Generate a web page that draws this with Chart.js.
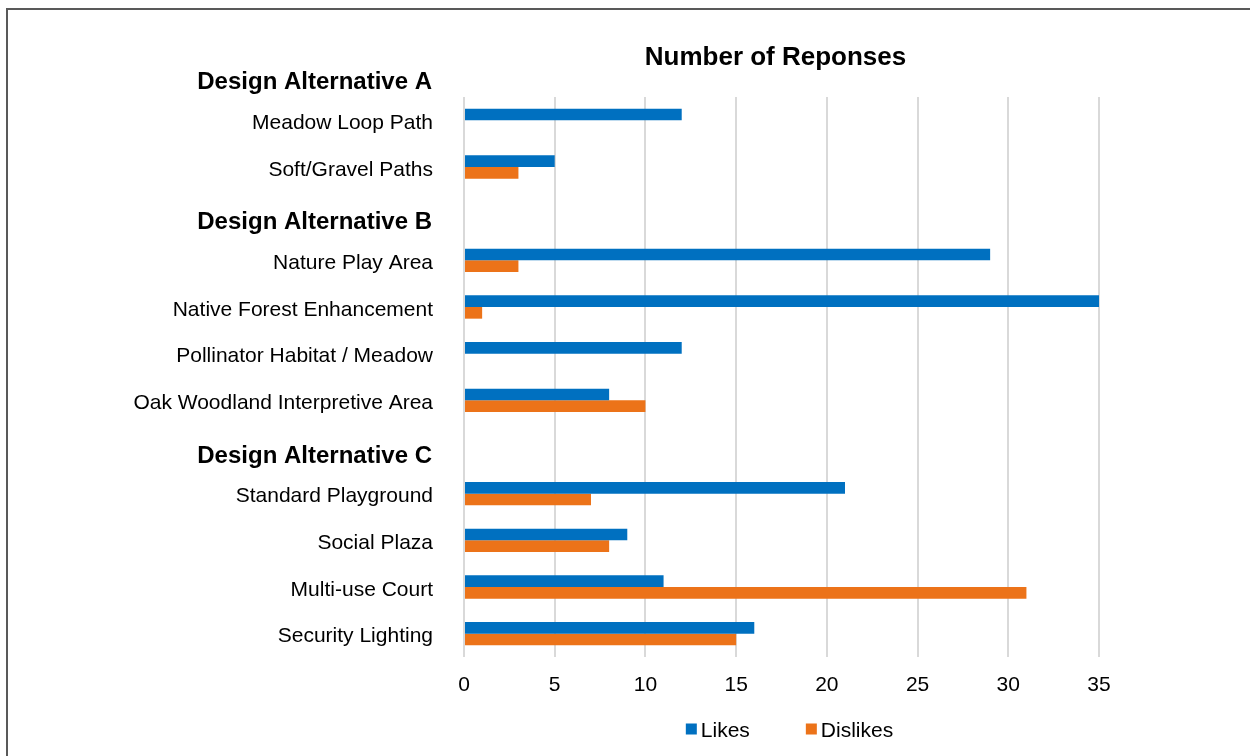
<!DOCTYPE html>
<html>
<head>
<meta charset="utf-8">
<script src="https://cdn.jsdelivr.net/npm/chart.js@4/dist/chart.umd.min.js"></script>
<style>
html,body{margin:0;padding:0;background:#fff;}
#wrap{position:relative;width:1250px;height:756px;}
canvas{display:block;}
</style>
</head>
<body>
<div id="wrap"><canvas id="c" width="1250" height="756"></canvas></div>
<script>
const categories = [
  'Design Alternative A',
  'Meadow Loop Path',
  'Soft/Gravel Paths',
  'Design Alternative B',
  'Nature Play Area',
  'Native Forest Enhancement',
  'Pollinator Habitat / Meadow',
  'Oak Woodland Interpretive Area',
  'Design Alternative C',
  'Standard Playground',
  'Social Plaza',
  'Multi-use Court',
  'Security Lighting'
];
const headers = ['Design Alternative A', 'Design Alternative B', 'Design Alternative C'];
const likes    = [null, 12, 5, null, 29, 35, 12, 8, null, 21, 9, 11, 16];
const dislikes = [null, 0, 3, null, 3, 1, 0, 10, null, 7, 8, 31, 15];
const xTicks = [0, 5, 10, 15, 20, 25, 30, 35];
const seriesNames = ['Likes', 'Dislikes'];
const chartTitle = 'Number of Reponses';

const FONT = "'Liberation Sans', Arial, Helvetica, sans-serif";
const BLUE = '#0070C0';
const ORANGE = '#EC7319';

const decorPlugin = {
  id: 'decor',
  afterDraw(chart) {
    const ctx = chart.ctx;
    const ca = chart.chartArea;
    const y = chart.scales.y;
    ctx.save();
    // outer frame (left and top edges visible)
    ctx.fillStyle = '#595959';
    ctx.fillRect(6, 8, 2, 748);
    ctx.fillRect(6, 8, 1244, 2);

    // title
    ctx.fillStyle = '#000';
    ctx.font = 'bold 26px ' + FONT;
    ctx.textAlign = 'center';
    ctx.textBaseline = 'middle';
    ctx.fillText(chartTitle, (ca.left + ca.right) / 2 - 6, 58);

    // section headers
    ctx.font = 'bold 24px ' + FONT;
    ctx.textAlign = 'right';
    categories.forEach((c, i) => {
      if (headers.includes(c)) {
        ctx.fillText(c, ca.left - 32, y.getPixelForValue(i) + 9);
      }
    });

    // legend
    ctx.font = '21px ' + FONT;
    ctx.textAlign = 'left';
    const box = 11, gapText = 4, gapItem = 56;
    const items = chart.data.datasets.map(d => ({label: d.label, color: d.backgroundColor, w: ctx.measureText(d.label).width}));
    let total = items.reduce((s, it) => s + box + gapText + it.w, 0) + gapItem * (items.length - 1);
    let x = (ca.left + ca.right) / 2 + 8 - total / 2;
    const ly = 729;
    items.forEach(it => {
      ctx.fillStyle = it.color;
      ctx.fillRect(x, ly - box / 2, box, box);
      ctx.fillStyle = '#000';
      ctx.fillText(it.label, x + box + gapText, ly + 2);
      x += box + gapText + it.w + gapItem;
    });
    ctx.restore();
  }
};

new Chart(document.getElementById('c'), {
  type: 'bar',
  data: {
    labels: categories,
    datasets: [
      {label: seriesNames[0], data: likes, backgroundColor: BLUE, borderWidth: 0},
      {label: seriesNames[1], data: dislikes, backgroundColor: ORANGE, borderWidth: 0}
    ]
  },
  options: {
    indexAxis: 'y',
    responsive: false,
    animation: false,
    devicePixelRatio: 1,
    categoryPercentage: 0.5,
    barPercentage: 1.0,
    layout: {padding: {left: 0, right: 151, top: 97, bottom: 49}},
    plugins: {
      legend: {display: false},
      title: {display: false},
      tooltip: {enabled: false}
    },
    scales: {
      x: {
        type: 'linear',
        min: 0,
        max: 35,
        afterFit(s) { s.height = 50; },
        afterBuildTicks(s) { s.ticks = xTicks.map(v => ({value: v})); },
        grid: {display: true, color: '#D9D9D9', lineWidth: 2, drawTicks: false},
        border: {display: false},
        ticks: {font: {family: FONT, size: 21}, color: '#000', padding: 16}
      },
      y: {
        type: 'category',
        min: categories[1],
        afterFit(s) { s.width = 464; },
        grid: {display: false, drawTicks: false},
        border: {display: false},
        ticks: {
          font: {family: FONT, size: 21},
          color: '#000',
          padding: 31,
          labelOffset: 3,
          autoSkip: false,
          callback(value) {
            const lbl = this.getLabelForValue(value);
            return headers.includes(lbl) ? '' : lbl;
          }
        }
      }
    }
  },
  plugins: [decorPlugin]
});
</script>
</body>
</html>
